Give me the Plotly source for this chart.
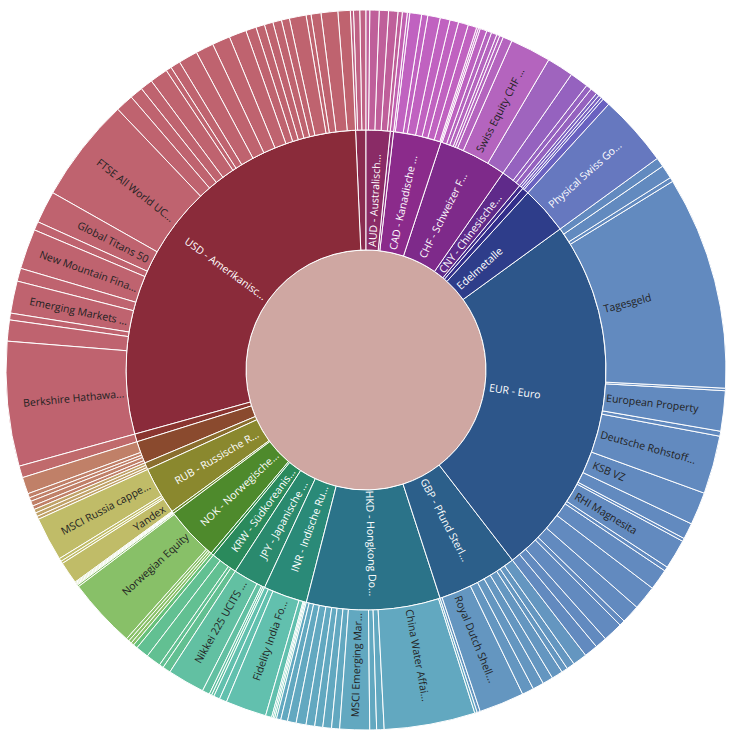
import math
import plotly.graph_objects as go

ROOT = "Depot"

# Currency groups, listed clockwise from 12 o'clock
currency_codes = ["AUD", "BRL", "CAD", "CHF", "CNY", "CZK", "DKK", "EDEL", "EUR", "GBP",
                  "HKD", "INR", "JPY", "KRW", "MXN", "NOK", "PLN", "RUB", "SEK", "SGD",
                  "TRY", "USD", "ZAR"]
currency_names = ["AUD - Australischer Dollar", "BRL - Brasilianischer Real",
                  "CAD - Kanadische Dollar", "CHF - Schweizer Franken",
                  "CNY - Chinesischer Yuan", "CZK - Tschechische Krone",
                  "DKK - Dänische Krone", "Edelmetalle", "EUR - Euro",
                  "GBP - Pfund Sterling", "HKD - Hongkong Dollar", "INR - Indische Rupie",
                  "JPY - Japanische Yen", "KRW - Südkoreanischer Won",
                  "MXN - Mexikanischer Peso", "NOK - Norwegische Krone",
                  "PLN - Polnischer Zloty", "RUB - Russische Rubel",
                  "SEK - Schwedische Krone", "SGD - Singapur-Dollar",
                  "TRY - Türkische Lira", "USD - Amerikanischer Dollar",
                  "ZAR - Südafrikanischer Rand"]

# Position values per currency (share of the depot, in units of 1/360)
AUD_values = [0.6, 1.5, 1.5, 1.5, 0.7]
BRL_values = [0.8]
CAD_values = [0.4, 1.9, 1.0, 2.0, 1.6, 1.4, 1.6, 1.4, 0.3]
CHF_values = [0.3, 1.1, 0.8, 0.9, 0.5, 0.6, 1.5, 6.6, 4.3]
CNY_values = [3.0, 0.9, 1.1]
CZK_values = [0.5, 0.5]
DKK_values = [0.4, 1.2]
EDEL_values = [11.6]
EUR_values = [1.5, 2.2, 0.7, 34.5, 0.4, 6.5, 0.8, 9.4, 5.3, 2.6, 0.5, 4.8, 0.7, 3.4,
              3.9, 3.0, 0.9, 3.2, 1.9, 2.2]
GBP_values = [2.3, 1.3, 1.0, 1.8, 1.7, 1.8, 1.9, 7.3, 0.5]
HKD_values = [0.4, 14.7, 1.2, 1.1, 4.8, 1.3, 1.4, 1.3, 1.4, 1.6, 1.4, 1.1, 0.7]
INR_values = [0.3, 0.25, 0.25, 1.0, 6.6, 1.2, 1.0]
JPY_values = [0.4, 0.4, 1.2, 6.0]
KRW_values = [1.3, 0.7, 2.4, 2.1]
MXN_values = [0.7]
NOK_values = [0.5, 0.5, 0.5, 11.3, 0.3]
PLN_values = [0.15, 0.15, 0.15, 0.15]
RUB_values = [3.6, 0.4, 0.5, 7.1]
SEK_values = [0.5, 0.6, 0.6]
SGD_values = [0.6, 0.8, 0.6, 0.7, 2.7]
TRY_values = [1.9]
USD_values = [20.1, 3.4, 1.1, 5.2, 2.1, 6.5, 1.4, 5.2, 16.9, 2.9, 2.1, 2.0, 2.9, 0.9,
              1.6, 3.1, 2.9, 2.9, 2.8, 1.7, 1.4, 1.4, 1.4, 1.3, 2.7, 0.8, 1.6, 2.7, 2.0]
ZAR_values = [0.5, 1.0, 1.0]

# Named positions (index within the currency list -> name)
CHF_names = {7: "Swiss Equity CHF A"}
EDEL_names = {0: "Physical Swiss Gold"}
EUR_names = {3: "Tagesgeld", 5: "European Property", 7: "Deutsche Rohstoff AG",
             8: "KSB VZ", 11: "RHI Magnesita"}
GBP_names = {7: "Royal Dutch Shell B"}
HKD_names = {1: "China Water Affairs", 4: "MSCI Emerging Markets"}
INR_names = {4: "Fidelity India Focus"}
JPY_names = {3: "Nikkei 225 UCITS ETF"}
NOK_names = {3: "Norwegian Equity"}
RUB_names = {0: "Yandex", 3: "MSCI Russia capped"}
USD_names = {0: "Berkshire Hathaway B", 3: "Emerging Markets Bond",
             5: "New Mountain Finance", 7: "Global Titans 50",
             8: "FTSE All World UCITS ETF"}

holdings = {
    "AUD": (AUD_values, {}), "BRL": (BRL_values, {}), "CAD": (CAD_values, {}),
    "CHF": (CHF_values, CHF_names), "CNY": (CNY_values, {}), "CZK": (CZK_values, {}),
    "DKK": (DKK_values, {}), "EDEL": (EDEL_values, EDEL_names),
    "EUR": (EUR_values, EUR_names), "GBP": (GBP_values, GBP_names),
    "HKD": (HKD_values, HKD_names), "INR": (INR_values, INR_names),
    "JPY": (JPY_values, JPY_names), "KRW": (KRW_values, {}), "MXN": (MXN_values, {}),
    "NOK": (NOK_values, NOK_names), "PLN": (PLN_values, {}),
    "RUB": (RUB_values, RUB_names), "SEK": (SEK_values, {}), "SGD": (SGD_values, {}),
    "TRY": (TRY_values, {}), "USD": (USD_values, USD_names), "ZAR": (ZAR_values, {}),
}

# Styling
root_color = "#cfa7a2"
inner_colors = {
    "AUD": "#8a2b66", "BRL": "#8b2b7e", "CAD": "#8b2b8b", "CHF": "#7e2a8a",
    "CNY": "#5f2a8a", "CZK": "#3e2a8a", "DKK": "#322e8a", "EDEL": "#2e3d8a",
    "EUR": "#2d568a", "GBP": "#2c5f8a", "HKD": "#2b7389", "INR": "#2a8a78",
    "JPY": "#2a8a6e", "KRW": "#2a8a5c", "MXN": "#2e8a40", "NOK": "#4e8a2c",
    "PLN": "#6a8a2c", "RUB": "#8a882e", "SEK": "#8a6e2e", "SGD": "#8a4a2e",
    "TRY": "#8a3530", "USD": "#8a2b3a", "ZAR": "#8a2b50",
}
outer_colors = {
    "AUD": "#bf5f9a", "BRL": "#c060b0", "CAD": "#c062c0", "CHF": "#b464be",
    "CNY": "#9562bf", "CZK": "#7a62c0", "DKK": "#6a62c0", "EDEL": "#6678bf",
    "EUR": "#628abf", "GBP": "#6496c0", "HKD": "#62a8c0", "INR": "#62c0ae",
    "JPY": "#62c0a2", "KRW": "#62c092", "MXN": "#66c07a", "NOK": "#88c068",
    "PLN": "#a2c068", "RUB": "#c0bc68", "SEK": "#c0a268", "SGD": "#c08068",
    "TRY": "#c06a6c", "USD": "#bf636f", "ZAR": "#bf6285",
}
position_colors = {("CHF", 8): "#9f64be", ("CHF", 0): "#bc62c0", ("CHF", 1): "#bc62c0"}
labelled_currencies = {"AUD", "CAD", "CHF", "CNY", "EDEL", "EUR", "GBP", "HKD",
                       "INR", "JPY", "KRW", "NOK", "RUB", "USD"}
light_text_positions = {"Physical Swiss Gold"}
DARK_TEXT = "#222222"
LIGHT_TEXT = "#ffffff"
FONT = "Open Sans"
LABEL_SIZE = 10.5

# Figure geometry: the sunburst fills a 720 px square, split into three rings
FIG_SIZE = 736
MARGIN = dict(l=6, r=10, t=10, b=6)
PLOT_PX = FIG_SIZE - MARGIN["l"] - MARGIN["r"]
RING_PX = PLOT_PX / 2 / 3
LABEL_PAD = 5


def shorten(s, n=17):
    return s if len(s) <= n else s[:n] + "..."


def text_width(s, size):
    """Rough advance width of a string in the label font."""
    w = 0.0
    for ch in s:
        if ch in "ijl.,'|!I":
            w += 0.26
        elif ch in "ftr":
            w += 0.34
        elif ch == " ":
            w += 0.26
        elif ch == "-":
            w += 0.32
        elif ch in "MW":
            w += 0.86
        elif ch in "mw":
            w += 0.82
        elif ch.isdigit():
            w += 0.57
        elif ch.isupper():
            w += 0.63
        else:
            w += 0.54
    return w * size


def radial_label(text, mid_deg, ring, color):
    """Annotation reading along the radius, starting just outside the ring's inner edge."""
    width = text_width(text, LABEL_SIZE)
    r = ring * RING_PX + LABEL_PAD + width / 2
    a = math.radians(mid_deg)
    dx, dy = r * math.sin(a), -r * math.cos(a)
    angle = mid_deg - 90 if mid_deg < 180 else mid_deg - 270
    return dict(
        x=0.5 + dx / PLOT_PX, y=0.5 - dy / PLOT_PX, xref="paper", yref="paper",
        text=text, showarrow=False, textangle=angle,
        xanchor="center", yanchor="middle",
        font=dict(family=FONT, size=LABEL_SIZE, color=color),
    )


ids, labels, parents, values, colors = ["root"], [ROOT], [""], [0], [root_color]

# Plotly lays slices out counter-clockwise, so feed the clockwise lists reversed
for code, cname in reversed(list(zip(currency_codes, currency_names))):
    ids.append(code)
    labels.append(cname)
    parents.append("root")
    values.append(0)
    colors.append(inner_colors[code])
    vals, names = holdings[code]
    for i in reversed(range(len(vals))):
        ids.append(f"{code}/{i}")
        labels.append(names.get(i) or f"{code} Position {i + 1}")
        parents.append(code)
        values.append(vals[i])
        colors.append(position_colors.get((code, i), outer_colors[code]))

# Radial labels at each slice's mid-angle (clockwise from 12 o'clock)
total = sum(sum(holdings[c][0]) for c in currency_codes)
annotations = []
cum = 0.0
for code, cname in zip(currency_codes, currency_names):
    vals, names = holdings[code]
    group = sum(vals)
    if code in labelled_currencies:
        mid = (cum + group / 2) / total * 360
        annotations.append(radial_label(shorten(cname), mid, 1, LIGHT_TEXT))
    pos = cum
    for i, v in enumerate(vals):
        name = names.get(i)
        if name:
            mid = (pos + v / 2) / total * 360
            col = LIGHT_TEXT if name in light_text_positions else DARK_TEXT
            annotations.append(radial_label(shorten(name), mid, 2, col))
        pos += v
    cum += group

fig = go.Figure(go.Sunburst(
    ids=ids,
    labels=labels,
    parents=parents,
    values=values,
    branchvalues="remainder",
    sort=False,
    rotation=90,
    textinfo="none",
    marker=dict(colors=colors, line=dict(color="white", width=1)),
    leaf=dict(opacity=1),
))

fig.update_layout(
    width=FIG_SIZE,
    height=FIG_SIZE,
    margin=MARGIN,
    paper_bgcolor="white",
    annotations=annotations,
)

fig.write_html("out.html")
